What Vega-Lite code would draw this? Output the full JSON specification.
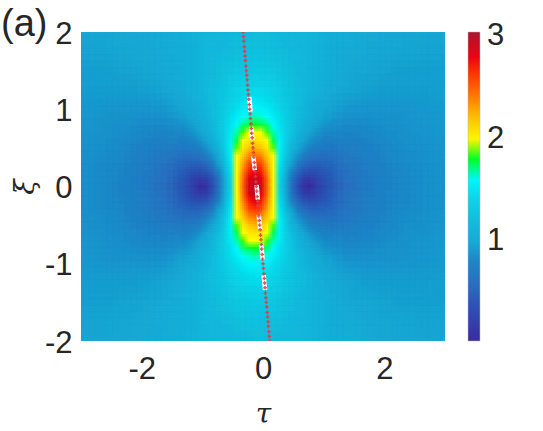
{"$schema":"https://vega.github.io/schema/vega-lite/v6.json","width":364,"height":309,"autosize":"none","padding":{"left":81,"top":32,"right":98,"bottom":90},"background":"white",
"title":{"text":"(a)","anchor":"start","frame":"group","font":"Liberation Sans","fontSize":38,"fontWeight":"normal","color":"#262626","offset":0,"dx":-80,"dy":56,"baseline":"alphabetic"},
"config":{"view":{"stroke":null}},
"datasets":{
"coarse":[
{"t":-3.13,"x":2,"v":0.97},{"t":-2.83,"x":2,"v":0.98},{"t":-2.53,"x":2,"v":0.98},{"t":-2.23,"x":2,"v":1.0},{"t":-1.93,"x":2,"v":1.02},{"t":-1.63,"x":2,"v":1.05},{"t":-1.33,"x":2,"v":1.08},{"t":-1.03,"x":2,"v":1.13},{"t":-0.73,"x":2,"v":1.17},{"t":-0.43,"x":2,"v":1.2},{"t":-0.13,"x":2,"v":1.21},{"t":0.17,"x":2,"v":1.2},{"t":0.47,"x":2,"v":1.17},{"t":0.77,"x":2,"v":1.13},{"t":1.07,"x":2,"v":1.08},{"t":1.37,"x":2,"v":1.05},{"t":1.67,"x":2,"v":1.02},{"t":1.97,"x":2,"v":1.0},{"t":2.27,"x":2,"v":0.98},{"t":2.57,"x":2,"v":0.98},{"t":2.87,"x":2,"v":0.97},
{"t":-3.13,"x":1.75,"v":0.96},{"t":-2.83,"x":1.75,"v":0.96},{"t":-2.53,"x":1.75,"v":0.97},{"t":-2.23,"x":1.75,"v":0.98},{"t":-1.93,"x":1.75,"v":1.0},{"t":-1.63,"x":1.75,"v":1.03},{"t":-1.33,"x":1.75,"v":1.08},{"t":-1.03,"x":1.75,"v":1.14},{"t":-0.73,"x":1.75,"v":1.2},{"t":-0.43,"x":1.75,"v":1.25},{"t":-0.13,"x":1.75,"v":1.27},{"t":0.17,"x":1.75,"v":1.25},{"t":0.47,"x":1.75,"v":1.2},{"t":0.77,"x":1.75,"v":1.14},{"t":1.07,"x":1.75,"v":1.08},{"t":1.37,"x":1.75,"v":1.03},{"t":1.67,"x":1.75,"v":1.0},{"t":1.97,"x":1.75,"v":0.98},{"t":2.27,"x":1.75,"v":0.97},{"t":2.57,"x":1.75,"v":0.96},{"t":2.87,"x":1.75,"v":0.96},
{"t":-3.13,"x":1.5,"v":0.95},{"t":-2.83,"x":1.5,"v":0.95},{"t":-2.53,"x":1.5,"v":0.95},{"t":-2.23,"x":1.5,"v":0.96},{"t":-1.93,"x":1.5,"v":0.98},{"t":-1.63,"x":1.5,"v":1.01},{"t":-1.33,"x":1.5,"v":1.07},{"t":-1.03,"x":1.5,"v":1.14},{"t":-0.73,"x":1.5,"v":1.23},{"t":-0.43,"x":1.5,"v":1.31},{"t":-0.13,"x":1.5,"v":1.34},{"t":0.17,"x":1.5,"v":1.31},{"t":0.47,"x":1.5,"v":1.23},{"t":0.77,"x":1.5,"v":1.14},{"t":1.07,"x":1.5,"v":1.07},{"t":1.37,"x":1.5,"v":1.01},{"t":1.67,"x":1.5,"v":0.98},{"t":1.97,"x":1.5,"v":0.96},{"t":2.27,"x":1.5,"v":0.95},{"t":2.57,"x":1.5,"v":0.95},{"t":2.87,"x":1.5,"v":0.95},
{"t":-3.13,"x":1.25,"v":0.94},{"t":-2.83,"x":1.25,"v":0.93},{"t":-2.53,"x":1.25,"v":0.93},{"t":-2.23,"x":1.25,"v":0.93},{"t":-1.93,"x":1.25,"v":0.94},{"t":-1.63,"x":1.25,"v":0.97},{"t":-1.33,"x":1.25,"v":1.03},{"t":-1.03,"x":1.25,"v":1.14},{"t":-0.73,"x":1.25,"v":1.27},{"t":-0.43,"x":1.25,"v":1.4},{"t":-0.13,"x":1.25,"v":1.45},{"t":0.17,"x":1.25,"v":1.4},{"t":0.47,"x":1.25,"v":1.27},{"t":0.77,"x":1.25,"v":1.14},{"t":1.07,"x":1.25,"v":1.03},{"t":1.37,"x":1.25,"v":0.97},{"t":1.67,"x":1.25,"v":0.94},{"t":1.97,"x":1.25,"v":0.93},{"t":2.27,"x":1.25,"v":0.93},{"t":2.57,"x":1.25,"v":0.93},{"t":2.87,"x":1.25,"v":0.94},
{"t":-3.13,"x":1,"v":0.92},{"t":-2.83,"x":1,"v":0.91},{"t":-2.53,"x":1,"v":0.9},{"t":-2.23,"x":1,"v":0.9},{"t":-1.93,"x":1,"v":0.9},{"t":-1.63,"x":1,"v":0.91},{"t":-1.33,"x":1,"v":0.97},{"t":-1.03,"x":1,"v":1.1},{"t":-0.73,"x":1,"v":1.3},{"t":-0.43,"x":1,"v":1.51},{"t":-0.13,"x":1,"v":1.61},{"t":0.17,"x":1,"v":1.51},{"t":0.47,"x":1,"v":1.3},{"t":0.77,"x":1,"v":1.1},{"t":1.07,"x":1,"v":0.97},{"t":1.37,"x":1,"v":0.91},{"t":1.67,"x":1,"v":0.9},{"t":1.97,"x":1,"v":0.9},{"t":2.27,"x":1,"v":0.9},{"t":2.57,"x":1,"v":0.91},{"t":2.87,"x":1,"v":0.92},
{"t":-3.13,"x":0.75,"v":0.91},{"t":-2.83,"x":0.75,"v":0.9},{"t":-2.53,"x":0.75,"v":0.88},{"t":-2.23,"x":0.75,"v":0.86},{"t":-1.93,"x":0.75,"v":0.84},{"t":-1.63,"x":0.75,"v":0.83},{"t":-1.33,"x":0.75,"v":0.87},{"t":1.07,"x":0.75,"v":0.87},{"t":1.37,"x":0.75,"v":0.83},{"t":1.67,"x":0.75,"v":0.84},{"t":1.97,"x":0.75,"v":0.86},{"t":2.27,"x":0.75,"v":0.88},{"t":2.57,"x":0.75,"v":0.9},{"t":2.87,"x":0.75,"v":0.91},
{"t":-3.13,"x":0.5,"v":0.9},{"t":-2.83,"x":0.5,"v":0.88},{"t":-2.53,"x":0.5,"v":0.86},{"t":-2.23,"x":0.5,"v":0.82},{"t":-1.93,"x":0.5,"v":0.78},{"t":-1.63,"x":0.5,"v":0.73},{"t":-1.33,"x":0.5,"v":0.71},{"t":1.07,"x":0.5,"v":0.71},{"t":1.37,"x":0.5,"v":0.73},{"t":1.67,"x":0.5,"v":0.78},{"t":1.97,"x":0.5,"v":0.82},{"t":2.27,"x":0.5,"v":0.86},{"t":2.57,"x":0.5,"v":0.88},{"t":2.87,"x":0.5,"v":0.9},
{"t":-3.13,"x":0.25,"v":0.89},{"t":-2.83,"x":0.25,"v":0.87},{"t":-2.53,"x":0.25,"v":0.84},{"t":-2.23,"x":0.25,"v":0.8},{"t":-1.93,"x":0.25,"v":0.73},{"t":-1.63,"x":0.25,"v":0.64},{"t":-1.33,"x":0.25,"v":0.52},{"t":1.07,"x":0.25,"v":0.52},{"t":1.37,"x":0.25,"v":0.64},{"t":1.67,"x":0.25,"v":0.73},{"t":1.97,"x":0.25,"v":0.8},{"t":2.27,"x":0.25,"v":0.84},{"t":2.57,"x":0.25,"v":0.87},{"t":2.87,"x":0.25,"v":0.89},
{"t":-3.13,"x":0,"v":0.89},{"t":-2.83,"x":0,"v":0.87},{"t":-2.53,"x":0,"v":0.83},{"t":-2.23,"x":0,"v":0.79},{"t":-1.93,"x":0,"v":0.71},{"t":-1.63,"x":0,"v":0.6},{"t":-1.33,"x":0,"v":0.41},{"t":1.07,"x":0,"v":0.41},{"t":1.37,"x":0,"v":0.6},{"t":1.67,"x":0,"v":0.71},{"t":1.97,"x":0,"v":0.79},{"t":2.27,"x":0,"v":0.83},{"t":2.57,"x":0,"v":0.87},{"t":2.87,"x":0,"v":0.89},
{"t":-3.13,"x":-0.25,"v":0.89},{"t":-2.83,"x":-0.25,"v":0.87},{"t":-2.53,"x":-0.25,"v":0.84},{"t":-2.23,"x":-0.25,"v":0.8},{"t":-1.93,"x":-0.25,"v":0.73},{"t":-1.63,"x":-0.25,"v":0.64},{"t":-1.33,"x":-0.25,"v":0.52},{"t":1.07,"x":-0.25,"v":0.52},{"t":1.37,"x":-0.25,"v":0.64},{"t":1.67,"x":-0.25,"v":0.73},{"t":1.97,"x":-0.25,"v":0.8},{"t":2.27,"x":-0.25,"v":0.84},{"t":2.57,"x":-0.25,"v":0.87},{"t":2.87,"x":-0.25,"v":0.89},
{"t":-3.13,"x":-0.5,"v":0.9},{"t":-2.83,"x":-0.5,"v":0.88},{"t":-2.53,"x":-0.5,"v":0.86},{"t":-2.23,"x":-0.5,"v":0.82},{"t":-1.93,"x":-0.5,"v":0.78},{"t":-1.63,"x":-0.5,"v":0.73},{"t":-1.33,"x":-0.5,"v":0.71},{"t":1.07,"x":-0.5,"v":0.71},{"t":1.37,"x":-0.5,"v":0.73},{"t":1.67,"x":-0.5,"v":0.78},{"t":1.97,"x":-0.5,"v":0.82},{"t":2.27,"x":-0.5,"v":0.86},{"t":2.57,"x":-0.5,"v":0.88},{"t":2.87,"x":-0.5,"v":0.9},
{"t":-3.13,"x":-0.75,"v":0.91},{"t":-2.83,"x":-0.75,"v":0.9},{"t":-2.53,"x":-0.75,"v":0.88},{"t":-2.23,"x":-0.75,"v":0.86},{"t":-1.93,"x":-0.75,"v":0.84},{"t":-1.63,"x":-0.75,"v":0.83},{"t":-1.33,"x":-0.75,"v":0.87},{"t":1.07,"x":-0.75,"v":0.87},{"t":1.37,"x":-0.75,"v":0.83},{"t":1.67,"x":-0.75,"v":0.84},{"t":1.97,"x":-0.75,"v":0.86},{"t":2.27,"x":-0.75,"v":0.88},{"t":2.57,"x":-0.75,"v":0.9},{"t":2.87,"x":-0.75,"v":0.91},
{"t":-3.13,"x":-1,"v":0.92},{"t":-2.83,"x":-1,"v":0.91},{"t":-2.53,"x":-1,"v":0.9},{"t":-2.23,"x":-1,"v":0.9},{"t":-1.93,"x":-1,"v":0.9},{"t":-1.63,"x":-1,"v":0.91},{"t":-1.33,"x":-1,"v":0.97},{"t":-1.03,"x":-1,"v":1.1},{"t":-0.73,"x":-1,"v":1.3},{"t":-0.43,"x":-1,"v":1.51},{"t":-0.13,"x":-1,"v":1.61},{"t":0.17,"x":-1,"v":1.51},{"t":0.47,"x":-1,"v":1.3},{"t":0.77,"x":-1,"v":1.1},{"t":1.07,"x":-1,"v":0.97},{"t":1.37,"x":-1,"v":0.91},{"t":1.67,"x":-1,"v":0.9},{"t":1.97,"x":-1,"v":0.9},{"t":2.27,"x":-1,"v":0.9},{"t":2.57,"x":-1,"v":0.91},{"t":2.87,"x":-1,"v":0.92},
{"t":-3.13,"x":-1.25,"v":0.94},{"t":-2.83,"x":-1.25,"v":0.93},{"t":-2.53,"x":-1.25,"v":0.93},{"t":-2.23,"x":-1.25,"v":0.93},{"t":-1.93,"x":-1.25,"v":0.94},{"t":-1.63,"x":-1.25,"v":0.97},{"t":-1.33,"x":-1.25,"v":1.03},{"t":-1.03,"x":-1.25,"v":1.14},{"t":-0.73,"x":-1.25,"v":1.27},{"t":-0.43,"x":-1.25,"v":1.4},{"t":-0.13,"x":-1.25,"v":1.45},{"t":0.17,"x":-1.25,"v":1.4},{"t":0.47,"x":-1.25,"v":1.27},{"t":0.77,"x":-1.25,"v":1.14},{"t":1.07,"x":-1.25,"v":1.03},{"t":1.37,"x":-1.25,"v":0.97},{"t":1.67,"x":-1.25,"v":0.94},{"t":1.97,"x":-1.25,"v":0.93},{"t":2.27,"x":-1.25,"v":0.93},{"t":2.57,"x":-1.25,"v":0.93},{"t":2.87,"x":-1.25,"v":0.94},
{"t":-3.13,"x":-1.5,"v":0.95},{"t":-2.83,"x":-1.5,"v":0.95},{"t":-2.53,"x":-1.5,"v":0.95},{"t":-2.23,"x":-1.5,"v":0.96},{"t":-1.93,"x":-1.5,"v":0.98},{"t":-1.63,"x":-1.5,"v":1.01},{"t":-1.33,"x":-1.5,"v":1.07},{"t":-1.03,"x":-1.5,"v":1.14},{"t":-0.73,"x":-1.5,"v":1.23},{"t":-0.43,"x":-1.5,"v":1.31},{"t":-0.13,"x":-1.5,"v":1.34},{"t":0.17,"x":-1.5,"v":1.31},{"t":0.47,"x":-1.5,"v":1.23},{"t":0.77,"x":-1.5,"v":1.14},{"t":1.07,"x":-1.5,"v":1.07},{"t":1.37,"x":-1.5,"v":1.01},{"t":1.67,"x":-1.5,"v":0.98},{"t":1.97,"x":-1.5,"v":0.96},{"t":2.27,"x":-1.5,"v":0.95},{"t":2.57,"x":-1.5,"v":0.95},{"t":2.87,"x":-1.5,"v":0.95},
{"t":-3.13,"x":-1.75,"v":0.96},{"t":-2.83,"x":-1.75,"v":0.96},{"t":-2.53,"x":-1.75,"v":0.97},{"t":-2.23,"x":-1.75,"v":0.98},{"t":-1.93,"x":-1.75,"v":1.0},{"t":-1.63,"x":-1.75,"v":1.03},{"t":-1.33,"x":-1.75,"v":1.08},{"t":-1.03,"x":-1.75,"v":1.14},{"t":-0.73,"x":-1.75,"v":1.2},{"t":-0.43,"x":-1.75,"v":1.25},{"t":-0.13,"x":-1.75,"v":1.27},{"t":0.17,"x":-1.75,"v":1.25},{"t":0.47,"x":-1.75,"v":1.2},{"t":0.77,"x":-1.75,"v":1.14},{"t":1.07,"x":-1.75,"v":1.08},{"t":1.37,"x":-1.75,"v":1.03},{"t":1.67,"x":-1.75,"v":1.0},{"t":1.97,"x":-1.75,"v":0.98},{"t":2.27,"x":-1.75,"v":0.97},{"t":2.57,"x":-1.75,"v":0.96},{"t":2.87,"x":-1.75,"v":0.96},
{"t":-3.13,"x":-2,"v":0.97},{"t":-2.83,"x":-2,"v":0.98},{"t":-2.53,"x":-2,"v":0.98},{"t":-2.23,"x":-2,"v":1.0},{"t":-1.93,"x":-2,"v":1.02},{"t":-1.63,"x":-2,"v":1.05},{"t":-1.33,"x":-2,"v":1.08},{"t":-1.03,"x":-2,"v":1.13},{"t":-0.73,"x":-2,"v":1.17},{"t":-0.43,"x":-2,"v":1.2},{"t":-0.13,"x":-2,"v":1.21},{"t":0.17,"x":-2,"v":1.2},{"t":0.47,"x":-2,"v":1.17},{"t":0.77,"x":-2,"v":1.13},{"t":1.07,"x":-2,"v":1.08},{"t":1.37,"x":-2,"v":1.05},{"t":1.67,"x":-2,"v":1.02},{"t":1.97,"x":-2,"v":1.0},{"t":2.27,"x":-2,"v":0.98},{"t":2.57,"x":-2,"v":0.98},{"t":2.87,"x":-2,"v":0.97}
],
"fine":[
{"t":-0.83,"x":1.2,"v":1.23},{"t":-0.73,"x":1.2,"v":1.28},{"t":-0.63,"x":1.2,"v":1.33},{"t":-0.53,"x":1.2,"v":1.38},{"t":-0.43,"x":1.2,"v":1.42},{"t":-0.33,"x":1.2,"v":1.45},{"t":-0.23,"x":1.2,"v":1.47},{"t":-0.13,"x":1.2,"v":1.48},{"t":-0.03,"x":1.2,"v":1.47},{"t":0.07,"x":1.2,"v":1.45},{"t":0.17,"x":1.2,"v":1.42},{"t":0.27,"x":1.2,"v":1.38},{"t":0.37,"x":1.2,"v":1.33},{"t":0.47,"x":1.2,"v":1.28},{"t":0.57,"x":1.2,"v":1.23},
{"t":-0.83,"x":1.1,"v":1.23},{"t":-0.73,"x":1.1,"v":1.29},{"t":-0.63,"x":1.1,"v":1.35},{"t":-0.53,"x":1.1,"v":1.41},{"t":-0.43,"x":1.1,"v":1.46},{"t":-0.33,"x":1.1,"v":1.5},{"t":-0.23,"x":1.1,"v":1.53},{"t":-0.13,"x":1.1,"v":1.54},{"t":-0.03,"x":1.1,"v":1.53},{"t":0.07,"x":1.1,"v":1.5},{"t":0.17,"x":1.1,"v":1.46},{"t":0.27,"x":1.1,"v":1.41},{"t":0.37,"x":1.1,"v":1.35},{"t":0.47,"x":1.1,"v":1.29},{"t":0.57,"x":1.1,"v":1.23},
{"t":-1.33,"x":1,"v":0.97},{"t":-1.23,"x":1,"v":1.01},{"t":-1.13,"x":1,"v":1.05},{"t":-1.03,"x":1,"v":1.1},{"t":-0.93,"x":1,"v":1.16},{"t":-0.83,"x":1,"v":1.23},{"t":-0.73,"x":1,"v":1.3},{"t":-0.63,"x":1,"v":1.37},{"t":-0.53,"x":1,"v":1.45},{"t":-0.43,"x":1,"v":1.51},{"t":-0.33,"x":1,"v":1.57},{"t":-0.23,"x":1,"v":1.6},{"t":-0.13,"x":1,"v":1.61},{"t":-0.03,"x":1,"v":1.6},{"t":0.07,"x":1,"v":1.57},{"t":0.17,"x":1,"v":1.51},{"t":0.27,"x":1,"v":1.45},{"t":0.37,"x":1,"v":1.37},{"t":0.47,"x":1,"v":1.3},{"t":0.57,"x":1,"v":1.23},{"t":0.67,"x":1,"v":1.16},{"t":0.77,"x":1,"v":1.1},{"t":0.87,"x":1,"v":1.05},{"t":0.97,"x":1,"v":1.01},{"t":1.07,"x":1,"v":0.97},
{"t":-1.33,"x":0.9,"v":0.94},{"t":-1.23,"x":0.9,"v":0.97},{"t":-1.13,"x":0.9,"v":1.01},{"t":-1.03,"x":0.9,"v":1.07},{"t":-0.93,"x":0.9,"v":1.14},{"t":-0.83,"x":0.9,"v":1.21},{"t":-0.73,"x":0.9,"v":1.3},{"t":-0.63,"x":0.9,"v":1.39},{"t":-0.53,"x":0.9,"v":1.49},{"t":-0.43,"x":0.9,"v":1.57},{"t":-0.33,"x":0.9,"v":1.64},{"t":-0.23,"x":0.9,"v":1.68},{"t":-0.13,"x":0.9,"v":1.7},{"t":-0.03,"x":0.9,"v":1.68},{"t":0.07,"x":0.9,"v":1.64},{"t":0.17,"x":0.9,"v":1.57},{"t":0.27,"x":0.9,"v":1.49},{"t":0.37,"x":0.9,"v":1.39},{"t":0.47,"x":0.9,"v":1.3},{"t":0.57,"x":0.9,"v":1.21},{"t":0.67,"x":0.9,"v":1.14},{"t":0.77,"x":0.9,"v":1.07},{"t":0.87,"x":0.9,"v":1.01},{"t":0.97,"x":0.9,"v":0.97},{"t":1.07,"x":0.9,"v":0.94},
{"t":-1.33,"x":0.8,"v":0.89},{"t":-1.23,"x":0.8,"v":0.92},{"t":-1.13,"x":0.8,"v":0.97},{"t":-1.03,"x":0.8,"v":1.03},{"t":-0.93,"x":0.8,"v":1.1},{"t":-0.83,"x":0.8,"v":1.19},{"t":-0.73,"x":0.8,"v":1.3},{"t":-0.63,"x":0.8,"v":1.41},{"t":-0.53,"x":0.8,"v":1.52},{"t":-0.43,"x":0.8,"v":1.63},{"t":-0.33,"x":0.8,"v":1.72},{"t":-0.23,"x":0.8,"v":1.78},{"t":-0.13,"x":0.8,"v":1.8},{"t":-0.03,"x":0.8,"v":1.78},{"t":0.07,"x":0.8,"v":1.72},{"t":0.17,"x":0.8,"v":1.63},{"t":0.27,"x":0.8,"v":1.52},{"t":0.37,"x":0.8,"v":1.41},{"t":0.47,"x":0.8,"v":1.3},{"t":0.57,"x":0.8,"v":1.19},{"t":0.67,"x":0.8,"v":1.1},{"t":0.77,"x":0.8,"v":1.03},{"t":0.87,"x":0.8,"v":0.97},{"t":0.97,"x":0.8,"v":0.92},{"t":1.07,"x":0.8,"v":0.89},
{"t":-1.33,"x":0.7,"v":0.84},{"t":-1.23,"x":0.7,"v":0.87},{"t":-1.13,"x":0.7,"v":0.91},{"t":-1.03,"x":0.7,"v":0.97},{"t":-0.93,"x":0.7,"v":1.05},{"t":-0.83,"x":0.7,"v":1.15},{"t":-0.73,"x":0.7,"v":1.28},{"t":-0.63,"x":0.7,"v":1.41},{"t":-0.53,"x":0.7,"v":1.56},{"t":-0.43,"x":0.7,"v":1.7},{"t":-0.33,"x":0.7,"v":1.82},{"t":-0.23,"x":0.7,"v":1.9},{"t":-0.13,"x":0.7,"v":1.92},{"t":-0.03,"x":0.7,"v":1.9},{"t":0.07,"x":0.7,"v":1.82},{"t":0.17,"x":0.7,"v":1.7},{"t":0.27,"x":0.7,"v":1.56},{"t":0.37,"x":0.7,"v":1.41},{"t":0.47,"x":0.7,"v":1.28},{"t":0.57,"x":0.7,"v":1.15},{"t":0.67,"x":0.7,"v":1.05},{"t":0.77,"x":0.7,"v":0.97},{"t":0.87,"x":0.7,"v":0.91},{"t":0.97,"x":0.7,"v":0.87},{"t":1.07,"x":0.7,"v":0.84},
{"t":-1.33,"x":0.6,"v":0.78},{"t":-1.23,"x":0.6,"v":0.8},{"t":-1.13,"x":0.6,"v":0.84},{"t":-1.03,"x":0.6,"v":0.9},{"t":-0.93,"x":0.6,"v":0.98},{"t":-0.83,"x":0.6,"v":1.09},{"t":-0.73,"x":0.6,"v":1.24},{"t":-0.63,"x":0.6,"v":1.4},{"t":-0.53,"x":0.6,"v":1.59},{"t":-0.43,"x":0.6,"v":1.77},{"t":-0.33,"x":0.6,"v":1.92},{"t":-0.23,"x":0.6,"v":2.03},{"t":-0.13,"x":0.6,"v":2.07},{"t":-0.03,"x":0.6,"v":2.03},{"t":0.07,"x":0.6,"v":1.92},{"t":0.17,"x":0.6,"v":1.77},{"t":0.27,"x":0.6,"v":1.59},{"t":0.37,"x":0.6,"v":1.4},{"t":0.47,"x":0.6,"v":1.24},{"t":0.57,"x":0.6,"v":1.09},{"t":0.67,"x":0.6,"v":0.98},{"t":0.77,"x":0.6,"v":0.9},{"t":0.87,"x":0.6,"v":0.84},{"t":0.97,"x":0.6,"v":0.8},{"t":1.07,"x":0.6,"v":0.78},
{"t":-1.33,"x":0.5,"v":0.71},{"t":-1.23,"x":0.5,"v":0.72},{"t":-1.13,"x":0.5,"v":0.75},{"t":-1.03,"x":0.5,"v":0.8},{"t":-0.93,"x":0.5,"v":0.89},{"t":-0.83,"x":0.5,"v":1.01},{"t":-0.73,"x":0.5,"v":1.17},{"t":-0.63,"x":0.5,"v":1.37},{"t":-0.53,"x":0.5,"v":1.6},{"t":-0.43,"x":0.5,"v":1.83},{"t":-0.33,"x":0.5,"v":2.04},{"t":-0.23,"x":0.5,"v":2.18},{"t":-0.13,"x":0.5,"v":2.24},{"t":-0.03,"x":0.5,"v":2.18},{"t":0.07,"x":0.5,"v":2.04},{"t":0.17,"x":0.5,"v":1.83},{"t":0.27,"x":0.5,"v":1.6},{"t":0.37,"x":0.5,"v":1.37},{"t":0.47,"x":0.5,"v":1.17},{"t":0.57,"x":0.5,"v":1.01},{"t":0.67,"x":0.5,"v":0.89},{"t":0.77,"x":0.5,"v":0.8},{"t":0.87,"x":0.5,"v":0.75},{"t":0.97,"x":0.5,"v":0.72},{"t":1.07,"x":0.5,"v":0.71},
{"t":-1.33,"x":0.4,"v":0.63},{"t":-1.23,"x":0.4,"v":0.62},{"t":-1.13,"x":0.4,"v":0.64},{"t":-1.03,"x":0.4,"v":0.68},{"t":-0.93,"x":0.4,"v":0.76},{"t":-0.83,"x":0.4,"v":0.9},{"t":-0.73,"x":0.4,"v":1.08},{"t":-0.63,"x":0.4,"v":1.32},{"t":-0.53,"x":0.4,"v":1.59},{"t":-0.43,"x":0.4,"v":1.89},{"t":-0.33,"x":0.4,"v":2.16},{"t":-0.23,"x":0.4,"v":2.35},{"t":-0.13,"x":0.4,"v":2.42},{"t":-0.03,"x":0.4,"v":2.35},{"t":0.07,"x":0.4,"v":2.16},{"t":0.17,"x":0.4,"v":1.89},{"t":0.27,"x":0.4,"v":1.59},{"t":0.37,"x":0.4,"v":1.32},{"t":0.47,"x":0.4,"v":1.08},{"t":0.57,"x":0.4,"v":0.9},{"t":0.67,"x":0.4,"v":0.76},{"t":0.77,"x":0.4,"v":0.68},{"t":0.87,"x":0.4,"v":0.64},{"t":0.97,"x":0.4,"v":0.62},{"t":1.07,"x":0.4,"v":0.63},
{"t":-1.33,"x":0.3,"v":0.55},{"t":-1.23,"x":0.3,"v":0.53},{"t":-1.13,"x":0.3,"v":0.51},{"t":-1.03,"x":0.3,"v":0.54},{"t":-0.93,"x":0.3,"v":0.61},{"t":-0.83,"x":0.3,"v":0.75},{"t":-0.73,"x":0.3,"v":0.96},{"t":-0.63,"x":0.3,"v":1.23},{"t":-0.53,"x":0.3,"v":1.56},{"t":-0.43,"x":0.3,"v":1.92},{"t":-0.33,"x":0.3,"v":2.27},{"t":-0.23,"x":0.3,"v":2.53},{"t":-0.13,"x":0.3,"v":2.62},{"t":-0.03,"x":0.3,"v":2.53},{"t":0.07,"x":0.3,"v":2.27},{"t":0.17,"x":0.3,"v":1.92},{"t":0.27,"x":0.3,"v":1.56},{"t":0.37,"x":0.3,"v":1.23},{"t":0.47,"x":0.3,"v":0.96},{"t":0.57,"x":0.3,"v":0.75},{"t":0.67,"x":0.3,"v":0.61},{"t":0.77,"x":0.3,"v":0.54},{"t":0.87,"x":0.3,"v":0.51},{"t":0.97,"x":0.3,"v":0.53},{"t":1.07,"x":0.3,"v":0.55},
{"t":-1.33,"x":0.2,"v":0.48},{"t":-1.23,"x":0.2,"v":0.43},{"t":-1.13,"x":0.2,"v":0.38},{"t":-1.03,"x":0.2,"v":0.37},{"t":-0.93,"x":0.2,"v":0.44},{"t":-0.83,"x":0.2,"v":0.58},{"t":-0.73,"x":0.2,"v":0.82},{"t":-0.63,"x":0.2,"v":1.13},{"t":-0.53,"x":0.2,"v":1.51},{"t":-0.43,"x":0.2,"v":1.94},{"t":-0.33,"x":0.2,"v":2.36},{"t":-0.23,"x":0.2,"v":2.69},{"t":-0.13,"x":0.2,"v":2.81},{"t":-0.03,"x":0.2,"v":2.69},{"t":0.07,"x":0.2,"v":2.36},{"t":0.17,"x":0.2,"v":1.94},{"t":0.27,"x":0.2,"v":1.51},{"t":0.37,"x":0.2,"v":1.13},{"t":0.47,"x":0.2,"v":0.82},{"t":0.57,"x":0.2,"v":0.58},{"t":0.67,"x":0.2,"v":0.44},{"t":0.77,"x":0.2,"v":0.37},{"t":0.87,"x":0.2,"v":0.38},{"t":0.97,"x":0.2,"v":0.43},{"t":1.07,"x":0.2,"v":0.48},
{"t":-1.33,"x":0.1,"v":0.43},{"t":-1.23,"x":0.1,"v":0.35},{"t":-1.13,"x":0.1,"v":0.26},{"t":-1.03,"x":0.1,"v":0.2},{"t":-0.93,"x":0.1,"v":0.25},{"t":-0.83,"x":0.1,"v":0.43},{"t":-0.73,"x":0.1,"v":0.69},{"t":-0.63,"x":0.1,"v":1.04},{"t":-0.53,"x":0.1,"v":1.46},{"t":-0.43,"x":0.1,"v":1.94},{"t":-0.33,"x":0.1,"v":2.43},{"t":-0.23,"x":0.1,"v":2.8},{"t":-0.13,"x":0.1,"v":2.95},{"t":-0.03,"x":0.1,"v":2.8},{"t":0.07,"x":0.1,"v":2.43},{"t":0.17,"x":0.1,"v":1.94},{"t":0.27,"x":0.1,"v":1.46},{"t":0.37,"x":0.1,"v":1.04},{"t":0.47,"x":0.1,"v":0.69},{"t":0.57,"x":0.1,"v":0.43},{"t":0.67,"x":0.1,"v":0.25},{"t":0.77,"x":0.1,"v":0.2},{"t":0.87,"x":0.1,"v":0.26},{"t":0.97,"x":0.1,"v":0.35},{"t":1.07,"x":0.1,"v":0.43},
{"t":-1.33,"x":0,"v":0.41},{"t":-1.23,"x":0,"v":0.32},{"t":-1.13,"x":0,"v":0.2},{"t":-1.03,"x":0,"v":0.05},{"t":-0.93,"x":0,"v":0.12},{"t":-0.83,"x":0,"v":0.35},{"t":-0.73,"x":0,"v":0.64},{"t":-0.63,"x":0,"v":1.0},{"t":-0.53,"x":0,"v":1.44},{"t":-0.43,"x":0,"v":1.94},{"t":-0.33,"x":0,"v":2.45},{"t":-0.23,"x":0,"v":2.85},{"t":-0.13,"x":0,"v":3.0},{"t":-0.03,"x":0,"v":2.85},{"t":0.07,"x":0,"v":2.45},{"t":0.17,"x":0,"v":1.94},{"t":0.27,"x":0,"v":1.44},{"t":0.37,"x":0,"v":1.0},{"t":0.47,"x":0,"v":0.64},{"t":0.57,"x":0,"v":0.35},{"t":0.67,"x":0,"v":0.12},{"t":0.77,"x":0,"v":0.05},{"t":0.87,"x":0,"v":0.2},{"t":0.97,"x":0,"v":0.32},{"t":1.07,"x":0,"v":0.41},
{"t":-1.33,"x":-0.1,"v":0.43},{"t":-1.23,"x":-0.1,"v":0.35},{"t":-1.13,"x":-0.1,"v":0.26},{"t":-1.03,"x":-0.1,"v":0.2},{"t":-0.93,"x":-0.1,"v":0.25},{"t":-0.83,"x":-0.1,"v":0.43},{"t":-0.73,"x":-0.1,"v":0.69},{"t":-0.63,"x":-0.1,"v":1.04},{"t":-0.53,"x":-0.1,"v":1.46},{"t":-0.43,"x":-0.1,"v":1.94},{"t":-0.33,"x":-0.1,"v":2.43},{"t":-0.23,"x":-0.1,"v":2.8},{"t":-0.13,"x":-0.1,"v":2.95},{"t":-0.03,"x":-0.1,"v":2.8},{"t":0.07,"x":-0.1,"v":2.43},{"t":0.17,"x":-0.1,"v":1.94},{"t":0.27,"x":-0.1,"v":1.46},{"t":0.37,"x":-0.1,"v":1.04},{"t":0.47,"x":-0.1,"v":0.69},{"t":0.57,"x":-0.1,"v":0.43},{"t":0.67,"x":-0.1,"v":0.25},{"t":0.77,"x":-0.1,"v":0.2},{"t":0.87,"x":-0.1,"v":0.26},{"t":0.97,"x":-0.1,"v":0.35},{"t":1.07,"x":-0.1,"v":0.43},
{"t":-1.33,"x":-0.2,"v":0.48},{"t":-1.23,"x":-0.2,"v":0.43},{"t":-1.13,"x":-0.2,"v":0.38},{"t":-1.03,"x":-0.2,"v":0.37},{"t":-0.93,"x":-0.2,"v":0.44},{"t":-0.83,"x":-0.2,"v":0.58},{"t":-0.73,"x":-0.2,"v":0.82},{"t":-0.63,"x":-0.2,"v":1.13},{"t":-0.53,"x":-0.2,"v":1.51},{"t":-0.43,"x":-0.2,"v":1.94},{"t":-0.33,"x":-0.2,"v":2.36},{"t":-0.23,"x":-0.2,"v":2.69},{"t":-0.13,"x":-0.2,"v":2.81},{"t":-0.03,"x":-0.2,"v":2.69},{"t":0.07,"x":-0.2,"v":2.36},{"t":0.17,"x":-0.2,"v":1.94},{"t":0.27,"x":-0.2,"v":1.51},{"t":0.37,"x":-0.2,"v":1.13},{"t":0.47,"x":-0.2,"v":0.82},{"t":0.57,"x":-0.2,"v":0.58},{"t":0.67,"x":-0.2,"v":0.44},{"t":0.77,"x":-0.2,"v":0.37},{"t":0.87,"x":-0.2,"v":0.38},{"t":0.97,"x":-0.2,"v":0.43},{"t":1.07,"x":-0.2,"v":0.48},
{"t":-1.33,"x":-0.3,"v":0.55},{"t":-1.23,"x":-0.3,"v":0.53},{"t":-1.13,"x":-0.3,"v":0.51},{"t":-1.03,"x":-0.3,"v":0.54},{"t":-0.93,"x":-0.3,"v":0.61},{"t":-0.83,"x":-0.3,"v":0.75},{"t":-0.73,"x":-0.3,"v":0.96},{"t":-0.63,"x":-0.3,"v":1.23},{"t":-0.53,"x":-0.3,"v":1.56},{"t":-0.43,"x":-0.3,"v":1.92},{"t":-0.33,"x":-0.3,"v":2.27},{"t":-0.23,"x":-0.3,"v":2.53},{"t":-0.13,"x":-0.3,"v":2.62},{"t":-0.03,"x":-0.3,"v":2.53},{"t":0.07,"x":-0.3,"v":2.27},{"t":0.17,"x":-0.3,"v":1.92},{"t":0.27,"x":-0.3,"v":1.56},{"t":0.37,"x":-0.3,"v":1.23},{"t":0.47,"x":-0.3,"v":0.96},{"t":0.57,"x":-0.3,"v":0.75},{"t":0.67,"x":-0.3,"v":0.61},{"t":0.77,"x":-0.3,"v":0.54},{"t":0.87,"x":-0.3,"v":0.51},{"t":0.97,"x":-0.3,"v":0.53},{"t":1.07,"x":-0.3,"v":0.55},
{"t":-1.33,"x":-0.4,"v":0.63},{"t":-1.23,"x":-0.4,"v":0.62},{"t":-1.13,"x":-0.4,"v":0.64},{"t":-1.03,"x":-0.4,"v":0.68},{"t":-0.93,"x":-0.4,"v":0.76},{"t":-0.83,"x":-0.4,"v":0.9},{"t":-0.73,"x":-0.4,"v":1.08},{"t":-0.63,"x":-0.4,"v":1.32},{"t":-0.53,"x":-0.4,"v":1.59},{"t":-0.43,"x":-0.4,"v":1.89},{"t":-0.33,"x":-0.4,"v":2.16},{"t":-0.23,"x":-0.4,"v":2.35},{"t":-0.13,"x":-0.4,"v":2.42},{"t":-0.03,"x":-0.4,"v":2.35},{"t":0.07,"x":-0.4,"v":2.16},{"t":0.17,"x":-0.4,"v":1.89},{"t":0.27,"x":-0.4,"v":1.59},{"t":0.37,"x":-0.4,"v":1.32},{"t":0.47,"x":-0.4,"v":1.08},{"t":0.57,"x":-0.4,"v":0.9},{"t":0.67,"x":-0.4,"v":0.76},{"t":0.77,"x":-0.4,"v":0.68},{"t":0.87,"x":-0.4,"v":0.64},{"t":0.97,"x":-0.4,"v":0.62},{"t":1.07,"x":-0.4,"v":0.63},
{"t":-1.33,"x":-0.5,"v":0.71},{"t":-1.23,"x":-0.5,"v":0.72},{"t":-1.13,"x":-0.5,"v":0.75},{"t":-1.03,"x":-0.5,"v":0.8},{"t":-0.93,"x":-0.5,"v":0.89},{"t":-0.83,"x":-0.5,"v":1.01},{"t":-0.73,"x":-0.5,"v":1.17},{"t":-0.63,"x":-0.5,"v":1.37},{"t":-0.53,"x":-0.5,"v":1.6},{"t":-0.43,"x":-0.5,"v":1.83},{"t":-0.33,"x":-0.5,"v":2.04},{"t":-0.23,"x":-0.5,"v":2.18},{"t":-0.13,"x":-0.5,"v":2.24},{"t":-0.03,"x":-0.5,"v":2.18},{"t":0.07,"x":-0.5,"v":2.04},{"t":0.17,"x":-0.5,"v":1.83},{"t":0.27,"x":-0.5,"v":1.6},{"t":0.37,"x":-0.5,"v":1.37},{"t":0.47,"x":-0.5,"v":1.17},{"t":0.57,"x":-0.5,"v":1.01},{"t":0.67,"x":-0.5,"v":0.89},{"t":0.77,"x":-0.5,"v":0.8},{"t":0.87,"x":-0.5,"v":0.75},{"t":0.97,"x":-0.5,"v":0.72},{"t":1.07,"x":-0.5,"v":0.71},
{"t":-1.33,"x":-0.6,"v":0.78},{"t":-1.23,"x":-0.6,"v":0.8},{"t":-1.13,"x":-0.6,"v":0.84},{"t":-1.03,"x":-0.6,"v":0.9},{"t":-0.93,"x":-0.6,"v":0.98},{"t":-0.83,"x":-0.6,"v":1.09},{"t":-0.73,"x":-0.6,"v":1.24},{"t":-0.63,"x":-0.6,"v":1.4},{"t":-0.53,"x":-0.6,"v":1.59},{"t":-0.43,"x":-0.6,"v":1.77},{"t":-0.33,"x":-0.6,"v":1.92},{"t":-0.23,"x":-0.6,"v":2.03},{"t":-0.13,"x":-0.6,"v":2.07},{"t":-0.03,"x":-0.6,"v":2.03},{"t":0.07,"x":-0.6,"v":1.92},{"t":0.17,"x":-0.6,"v":1.77},{"t":0.27,"x":-0.6,"v":1.59},{"t":0.37,"x":-0.6,"v":1.4},{"t":0.47,"x":-0.6,"v":1.24},{"t":0.57,"x":-0.6,"v":1.09},{"t":0.67,"x":-0.6,"v":0.98},{"t":0.77,"x":-0.6,"v":0.9},{"t":0.87,"x":-0.6,"v":0.84},{"t":0.97,"x":-0.6,"v":0.8},{"t":1.07,"x":-0.6,"v":0.78},
{"t":-1.33,"x":-0.7,"v":0.84},{"t":-1.23,"x":-0.7,"v":0.87},{"t":-1.13,"x":-0.7,"v":0.91},{"t":-1.03,"x":-0.7,"v":0.97},{"t":-0.93,"x":-0.7,"v":1.05},{"t":-0.83,"x":-0.7,"v":1.15},{"t":-0.73,"x":-0.7,"v":1.28},{"t":-0.63,"x":-0.7,"v":1.41},{"t":-0.53,"x":-0.7,"v":1.56},{"t":-0.43,"x":-0.7,"v":1.7},{"t":-0.33,"x":-0.7,"v":1.82},{"t":-0.23,"x":-0.7,"v":1.9},{"t":-0.13,"x":-0.7,"v":1.92},{"t":-0.03,"x":-0.7,"v":1.9},{"t":0.07,"x":-0.7,"v":1.82},{"t":0.17,"x":-0.7,"v":1.7},{"t":0.27,"x":-0.7,"v":1.56},{"t":0.37,"x":-0.7,"v":1.41},{"t":0.47,"x":-0.7,"v":1.28},{"t":0.57,"x":-0.7,"v":1.15},{"t":0.67,"x":-0.7,"v":1.05},{"t":0.77,"x":-0.7,"v":0.97},{"t":0.87,"x":-0.7,"v":0.91},{"t":0.97,"x":-0.7,"v":0.87},{"t":1.07,"x":-0.7,"v":0.84},
{"t":-1.33,"x":-0.8,"v":0.89},{"t":-1.23,"x":-0.8,"v":0.92},{"t":-1.13,"x":-0.8,"v":0.97},{"t":-1.03,"x":-0.8,"v":1.03},{"t":-0.93,"x":-0.8,"v":1.1},{"t":-0.83,"x":-0.8,"v":1.19},{"t":-0.73,"x":-0.8,"v":1.3},{"t":-0.63,"x":-0.8,"v":1.41},{"t":-0.53,"x":-0.8,"v":1.52},{"t":-0.43,"x":-0.8,"v":1.63},{"t":-0.33,"x":-0.8,"v":1.72},{"t":-0.23,"x":-0.8,"v":1.78},{"t":-0.13,"x":-0.8,"v":1.8},{"t":-0.03,"x":-0.8,"v":1.78},{"t":0.07,"x":-0.8,"v":1.72},{"t":0.17,"x":-0.8,"v":1.63},{"t":0.27,"x":-0.8,"v":1.52},{"t":0.37,"x":-0.8,"v":1.41},{"t":0.47,"x":-0.8,"v":1.3},{"t":0.57,"x":-0.8,"v":1.19},{"t":0.67,"x":-0.8,"v":1.1},{"t":0.77,"x":-0.8,"v":1.03},{"t":0.87,"x":-0.8,"v":0.97},{"t":0.97,"x":-0.8,"v":0.92},{"t":1.07,"x":-0.8,"v":0.89},
{"t":-1.33,"x":-0.9,"v":0.94},{"t":-1.23,"x":-0.9,"v":0.97},{"t":-1.13,"x":-0.9,"v":1.01},{"t":-1.03,"x":-0.9,"v":1.07},{"t":-0.93,"x":-0.9,"v":1.14},{"t":-0.83,"x":-0.9,"v":1.21},{"t":-0.73,"x":-0.9,"v":1.3},{"t":-0.63,"x":-0.9,"v":1.39},{"t":-0.53,"x":-0.9,"v":1.49},{"t":-0.43,"x":-0.9,"v":1.57},{"t":-0.33,"x":-0.9,"v":1.64},{"t":-0.23,"x":-0.9,"v":1.68},{"t":-0.13,"x":-0.9,"v":1.7},{"t":-0.03,"x":-0.9,"v":1.68},{"t":0.07,"x":-0.9,"v":1.64},{"t":0.17,"x":-0.9,"v":1.57},{"t":0.27,"x":-0.9,"v":1.49},{"t":0.37,"x":-0.9,"v":1.39},{"t":0.47,"x":-0.9,"v":1.3},{"t":0.57,"x":-0.9,"v":1.21},{"t":0.67,"x":-0.9,"v":1.14},{"t":0.77,"x":-0.9,"v":1.07},{"t":0.87,"x":-0.9,"v":1.01},{"t":0.97,"x":-0.9,"v":0.97},{"t":1.07,"x":-0.9,"v":0.94},
{"t":-1.33,"x":-1,"v":0.97},{"t":-1.23,"x":-1,"v":1.01},{"t":-1.13,"x":-1,"v":1.05},{"t":-1.03,"x":-1,"v":1.1},{"t":-0.93,"x":-1,"v":1.16},{"t":-0.83,"x":-1,"v":1.23},{"t":-0.73,"x":-1,"v":1.3},{"t":-0.63,"x":-1,"v":1.37},{"t":-0.53,"x":-1,"v":1.45},{"t":-0.43,"x":-1,"v":1.51},{"t":-0.33,"x":-1,"v":1.57},{"t":-0.23,"x":-1,"v":1.6},{"t":-0.13,"x":-1,"v":1.61},{"t":-0.03,"x":-1,"v":1.6},{"t":0.07,"x":-1,"v":1.57},{"t":0.17,"x":-1,"v":1.51},{"t":0.27,"x":-1,"v":1.45},{"t":0.37,"x":-1,"v":1.37},{"t":0.47,"x":-1,"v":1.3},{"t":0.57,"x":-1,"v":1.23},{"t":0.67,"x":-1,"v":1.16},{"t":0.77,"x":-1,"v":1.1},{"t":0.87,"x":-1,"v":1.05},{"t":0.97,"x":-1,"v":1.01},{"t":1.07,"x":-1,"v":0.97},
{"t":-0.83,"x":-1.1,"v":1.23},{"t":-0.73,"x":-1.1,"v":1.29},{"t":-0.63,"x":-1.1,"v":1.35},{"t":-0.53,"x":-1.1,"v":1.41},{"t":-0.43,"x":-1.1,"v":1.46},{"t":-0.33,"x":-1.1,"v":1.5},{"t":-0.23,"x":-1.1,"v":1.53},{"t":-0.13,"x":-1.1,"v":1.54},{"t":-0.03,"x":-1.1,"v":1.53},{"t":0.07,"x":-1.1,"v":1.5},{"t":0.17,"x":-1.1,"v":1.46},{"t":0.27,"x":-1.1,"v":1.41},{"t":0.37,"x":-1.1,"v":1.35},{"t":0.47,"x":-1.1,"v":1.29},{"t":0.57,"x":-1.1,"v":1.23},
{"t":-0.83,"x":-1.2,"v":1.23},{"t":-0.73,"x":-1.2,"v":1.28},{"t":-0.63,"x":-1.2,"v":1.33},{"t":-0.53,"x":-1.2,"v":1.38},{"t":-0.43,"x":-1.2,"v":1.42},{"t":-0.33,"x":-1.2,"v":1.45},{"t":-0.23,"x":-1.2,"v":1.47},{"t":-0.13,"x":-1.2,"v":1.48},{"t":-0.03,"x":-1.2,"v":1.47},{"t":0.07,"x":-1.2,"v":1.45},{"t":0.17,"x":-1.2,"v":1.42},{"t":0.27,"x":-1.2,"v":1.38},{"t":0.37,"x":-1.2,"v":1.33},{"t":0.47,"x":-1.2,"v":1.28},{"t":0.57,"x":-1.2,"v":1.23}
],
"white":[
{"t":-0.225,"t2":-0.205,"x":1.16,"x2":0.97},{"t":-0.195,"t2":-0.175,"x":0.77,"x2":0.6},{"t":-0.16,"t2":-0.135,"x":0.39,"x2":0.21},{"t":-0.105,"t2":-0.085,"x":0.02,"x2":-0.17},{"t":-0.07,"t2":-0.045,"x":-0.37,"x2":-0.56},{"t":-0.03,"t2":-0.005,"x":-0.74,"x2":-0.95},{"t":0.01,"t2":0.035,"x":-1.15,"x2":-1.34}
],
"ridge":[
{"t":-0.33,"x":2},{"t":-0.323,"x":1.94},{"t":-0.316,"x":1.88},{"t":-0.309,"x":1.81},{"t":-0.303,"x":1.75},{"t":-0.296,"x":1.69},{"t":-0.289,"x":1.63},{"t":-0.282,"x":1.56},{"t":-0.275,"x":1.5},{"t":-0.268,"x":1.44},{"t":-0.261,"x":1.38},{"t":-0.254,"x":1.31},{"t":-0.248,"x":1.25},{"t":-0.241,"x":1.19},{"t":-0.234,"x":1.13},{"t":-0.227,"x":1.06},{"t":-0.22,"x":1},{"t":-0.213,"x":0.94},{"t":-0.206,"x":0.88},{"t":-0.199,"x":0.81},{"t":-0.193,"x":0.75},{"t":-0.186,"x":0.69},{"t":-0.179,"x":0.63},{"t":-0.172,"x":0.56},{"t":-0.165,"x":0.5},{"t":-0.158,"x":0.44},{"t":-0.151,"x":0.38},{"t":-0.144,"x":0.31},{"t":-0.138,"x":0.25},{"t":-0.131,"x":0.19},{"t":-0.124,"x":0.13},{"t":-0.117,"x":0.06},{"t":-0.11,"x":0},{"t":-0.103,"x":-0.06},{"t":-0.096,"x":-0.13},{"t":-0.089,"x":-0.19},{"t":-0.083,"x":-0.25},{"t":-0.076,"x":-0.31},{"t":-0.069,"x":-0.38},{"t":-0.062,"x":-0.44},{"t":-0.055,"x":-0.5},{"t":-0.048,"x":-0.56},{"t":-0.041,"x":-0.63},{"t":-0.034,"x":-0.69},{"t":-0.028,"x":-0.75},{"t":-0.021,"x":-0.81},{"t":-0.014,"x":-0.88},{"t":-0.007,"x":-0.94},{"t":0,"x":-1},{"t":0.007,"x":-1.06},{"t":0.014,"x":-1.13},{"t":0.021,"x":-1.19},{"t":0.028,"x":-1.25},{"t":0.034,"x":-1.31},{"t":0.041,"x":-1.38},{"t":0.048,"x":-1.44},{"t":0.055,"x":-1.5},{"t":0.062,"x":-1.56},{"t":0.069,"x":-1.63},{"t":0.076,"x":-1.69},{"t":0.083,"x":-1.75},{"t":0.089,"x":-1.81},{"t":0.096,"x":-1.88},{"t":0.103,"x":-1.94},{"t":0.11,"x":-2}
]},
"encoding":{
"x":{"field":"t","type":"quantitative","scale":{"domain":[-3,3],"nice":false,"zero":false},"axis":{"values":[-2,0,2],"labelExpr":"''+datum.value","title":"τ","grid":false,"domain":false,"ticks":false,"labelFont":"Liberation Sans","labelFontSize":31,"labelColor":"#262626","labelPadding":13,"titleFont":"DejaVu Serif","titleFontStyle":"italic","titleFontWeight":"normal","titleFontSize":28,"titleColor":"#262626","titlePadding":16}},
"y":{"field":"x","type":"quantitative","scale":{"domain":[-2,2],"nice":false,"zero":false},"axis":{"values":[-2,-1,0,1,2],"labelExpr":"''+datum.value","labelOffset":2,"title":"ξ","grid":false,"domain":false,"ticks":false,"labelFont":"Liberation Sans","labelFontSize":31,"labelColor":"#262626","labelPadding":9,"titleFont":"DejaVu Serif","titleFontStyle":"italic","titleFontWeight":"normal","titleFontSize":28,"titleColor":"#262626","titlePadding":5}}
},
"layer":[
{"data":{"name":"coarse"},"mark":{"type":"rect","width":18.6,"height":19.7,"clip":true},
"encoding":{"color":{"field":"v","type":"quantitative","scale":{"type":"linear","domain":[0.03,0.3,0.6,0.8,0.89,0.97,1.1,1.21,1.43,1.65,1.72,1.81,1.86,1.88,1.96,2.18,2.5,2.74,2.85,3.04],"range":["#3b2a9e","#3248b0","#2a70c0","#1f84c6","#1a94cc","#18a8d4","#16b2da","#14bcdc","#10d4e8","#00ffff","#00ff80","#00ff00","#80ff00","#ffff00","#ffff00","#ffc800","#ff5500","#ff0000","#d80a1a","#a8172e"]},
"legend":{"title":null,"orient":"none","legendX":387,"legendY":0,"direction":"vertical","gradientLength":309,"gradientThickness":12,"gradientStrokeColor":"#bbbbbb","gradientStrokeWidth":0.5,"values":[1,2,3],"format":"d","labelFont":"Liberation Sans","labelFontSize":31,"labelColor":"#262626","labelOffset":7}}}},
{"data":{"name":"coarse"},"mark":{"type":"rect","width":18.6,"height":19.7,"clip":true,"xOffset":-6,"yOffset":-6.4,"opacity":0.5},"encoding":{"color":{"field":"v","type":"quantitative","legend":null}}},
{"data":{"name":"coarse"},"mark":{"type":"rect","width":18.6,"height":19.7,"clip":true,"xOffset":6,"yOffset":-6.4,"opacity":0.333},"encoding":{"color":{"field":"v","type":"quantitative","legend":null}}},
{"data":{"name":"coarse"},"mark":{"type":"rect","width":18.6,"height":19.7,"clip":true,"xOffset":-6,"yOffset":6.4,"opacity":0.25},"encoding":{"color":{"field":"v","type":"quantitative","legend":null}}},
{"data":{"name":"coarse"},"mark":{"type":"rect","width":18.6,"height":19.7,"clip":true,"xOffset":6,"yOffset":6.4,"opacity":0.2},"encoding":{"color":{"field":"v","type":"quantitative","legend":null}}},
{"data":{"name":"coarse"},"mark":{"type":"rect","width":18.6,"height":19.7,"clip":true,"xOffset":-6,"opacity":0.167},"encoding":{"color":{"field":"v","type":"quantitative","legend":null}}},
{"data":{"name":"coarse"},"mark":{"type":"rect","width":18.6,"height":19.7,"clip":true,"xOffset":6,"opacity":0.143},"encoding":{"color":{"field":"v","type":"quantitative","legend":null}}},
{"data":{"name":"coarse"},"mark":{"type":"rect","width":18.6,"height":19.7,"clip":true,"yOffset":-6.4,"opacity":0.125},"encoding":{"color":{"field":"v","type":"quantitative","legend":null}}},
{"data":{"name":"coarse"},"mark":{"type":"rect","width":18.6,"height":19.7,"clip":true,"yOffset":6.4,"opacity":0.111},"encoding":{"color":{"field":"v","type":"quantitative","legend":null}}},
{"data":{"name":"fine"},"mark":{"type":"rect","width":6.4,"height":8,"clip":true},"encoding":{"color":{"field":"v","type":"quantitative","legend":null}}},
{"data":{"name":"fine"},"mark":{"type":"rect","width":6.4,"height":8,"clip":true,"xOffset":-2,"yOffset":-2.6,"opacity":0.5},"encoding":{"color":{"field":"v","type":"quantitative","legend":null}}},
{"data":{"name":"fine"},"mark":{"type":"rect","width":6.4,"height":8,"clip":true,"xOffset":2,"yOffset":-2.6,"opacity":0.333},"encoding":{"color":{"field":"v","type":"quantitative","legend":null}}},
{"data":{"name":"fine"},"mark":{"type":"rect","width":6.4,"height":8,"clip":true,"xOffset":-2,"yOffset":2.6,"opacity":0.25},"encoding":{"color":{"field":"v","type":"quantitative","legend":null}}},
{"data":{"name":"fine"},"mark":{"type":"rect","width":6.4,"height":8,"clip":true,"xOffset":2,"yOffset":2.6,"opacity":0.2},"encoding":{"color":{"field":"v","type":"quantitative","legend":null}}},
{"data":{"name":"fine"},"mark":{"type":"rect","width":6.4,"height":8,"clip":true,"xOffset":-2,"opacity":0.167},"encoding":{"color":{"field":"v","type":"quantitative","legend":null}}},
{"data":{"name":"fine"},"mark":{"type":"rect","width":6.4,"height":8,"clip":true,"xOffset":2,"opacity":0.143},"encoding":{"color":{"field":"v","type":"quantitative","legend":null}}},
{"data":{"name":"fine"},"mark":{"type":"rect","width":6.4,"height":8,"clip":true,"yOffset":-2.6,"opacity":0.125},"encoding":{"color":{"field":"v","type":"quantitative","legend":null}}},
{"data":{"name":"fine"},"mark":{"type":"rect","width":6.4,"height":8,"clip":true,"yOffset":2.6,"opacity":0.111},"encoding":{"color":{"field":"v","type":"quantitative","legend":null}}},
{"data":{"name":"white"},"mark":{"type":"rule","color":"white","strokeWidth":4.5,"clip":true},
"encoding":{"x2":{"field":"t2"},"y2":{"field":"x2"}}},
{"data":{"name":"ridge"},"mark":{"type":"point","shape":"cross","filled":true,"size":13,"color":"#e23a48","opacity":0.9,"clip":true},"encoding":{}}
]}
